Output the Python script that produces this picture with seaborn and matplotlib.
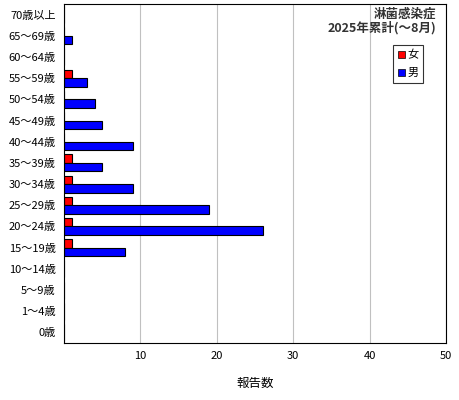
import numpy as np
import pandas as pd
import matplotlib
matplotlib.use("Agg")
import matplotlib.pyplot as plt
import seaborn as sns
from matplotlib.ticker import FixedLocator
from matplotlib.patches import Patch

# age groups, top to bottom
age_groups = ["70歳以上", "65～69歳", "60～64歳", "55～59歳", "50～54歳", "45～49歳",
              "40～44歳", "35～39歳", "30～34歳", "25～29歳", "20～24歳", "15～19歳",
              "10～14歳", "5～9歳", "1～4歳", "0歳"]
female = [0, 0, 0, 1, 0, 0, 0, 1, 1, 1, 1, 1, 0, 0, 0, 0]
male = [0, 1, 0, 3, 4, 5, 9, 5, 9, 19, 26, 8, 0, 0, 0, 0]
sexes = ["女", "男"]
x_ticks = [10, 20, 30, 40, 50]

sns.set_theme(style="white")
plt.rcParams['font.family'] = ['Noto Sans CJK JP', 'DejaVu Sans']
plt.rcParams['text.color'] = 'black'
plt.rcParams['xtick.color'] = 'black'
plt.rcParams['ytick.color'] = 'black'
plt.rcParams['axes.labelcolor'] = 'black'

df = pd.DataFrame({
    "年齢": age_groups * 2,
    "性別": [sexes[0]] * len(age_groups) + [sexes[1]] * len(age_groups),
    "報告数": female + male,
})

fig = plt.figure(figsize=(4.6, 4.0), dpi=100)
ax = fig.add_axes([64 / 460, 57 / 400, 382 / 460, 339 / 400])

sns.barplot(data=df, y="年齢", x="報告数", hue="性別", order=age_groups,
            hue_order=sexes, palette={"女": "#ff0000", "男": "#0000ff"},
            orient="h", width=0.8, edgecolor="black", linewidth=0.8,
            saturation=1, ax=ax, legend=False)

ax.set_xlim(0, 50)
ax.set_ylim(len(age_groups) - 0.5, -0.5)
ax.set_xticks(x_ticks)
ax.set_xticklabels([str(t) for t in x_ticks], fontsize=8)
ax.tick_params(axis="x", length=0, pad=6)
ax.tick_params(axis="y", length=0, labelsize=8, pad=6)
ax.yaxis.set_minor_locator(FixedLocator(np.arange(0.5, len(age_groups) - 0.5, 1)))
ax.tick_params(axis="y", which="minor", direction="in", length=3, width=0.8, color="black")
ax.grid(axis="x", color="#c0c0c0", linewidth=0.8)
ax.set_axisbelow(True)
for s in ax.spines.values():
    s.set_color("black")
    s.set_linewidth(0.8)
ax.set_ylabel("")
ax.set_xlabel("報告数", fontsize=9, labelpad=11)

ax.text(0.975, 0.99, "淋菌感染症\n2025年累計(～8月)", transform=ax.transAxes,
        ha="right", va="top", fontsize=9, linespacing=1.05, fontweight="bold",
        color="#333333")

handles = [Patch(facecolor="#ff0000", edgecolor="black", linewidth=0.5),
           Patch(facecolor="#0000ff", edgecolor="black", linewidth=0.5)]
leg = ax.legend(handles, sexes, loc="upper right", bbox_to_anchor=(0.955, 0.895),
                fontsize=8, frameon=True, fancybox=False, handlelength=0.6,
                handleheight=0.6, handletextpad=0.2, labelspacing=0.7,
                borderpad=0.45, edgecolor="black")
leg.get_frame().set_linewidth(0.8)

fig.savefig("out.png", dpi=100)
